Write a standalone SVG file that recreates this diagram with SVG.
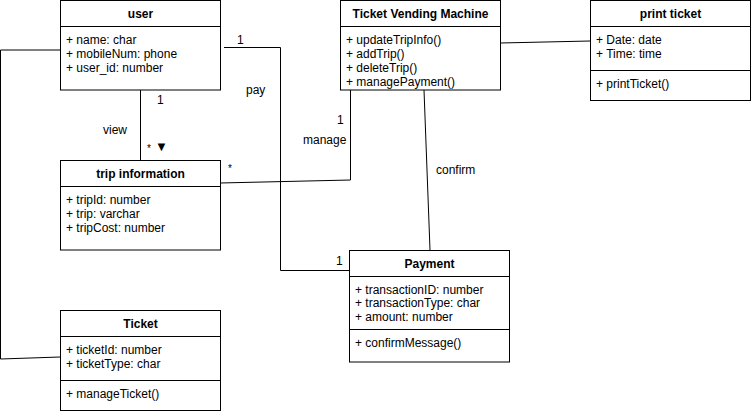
<svg xmlns="http://www.w3.org/2000/svg" width="751" height="414" viewBox="0 0 751 414">
<style>
.box{fill:#fff;stroke:#000;stroke-width:1}
.ln{stroke:#000;stroke-width:1;fill:none}
text{font-family:"Liberation Sans",Arial,Helvetica,sans-serif;font-size:12px;fill:#000}
.t{font-weight:bold;text-anchor:middle}
</style>
<rect width="751" height="414" fill="#fff"/>
<g id="connectors">
<polyline class="ln" points="60,50 0.5,50 0.5,359 60,357"/>
<line class="ln" x1="140.5" y1="90" x2="140.5" y2="160"/>
<polyline class="ln" points="224,47.5 280.5,47.5 280.5,270.5 349,270.5"/>
<polyline class="ln" points="350.5,90 350.5,180 220,183"/>
<line class="ln" x1="424" y1="90" x2="430" y2="250"/>
<line class="ln" x1="500" y1="43" x2="590" y2="41"/>
<text x="237" y="44">1</text>
<text x="246" y="94">pay</text>
<text x="157" y="104">1</text>
<text x="103" y="134">view</text>
<text x="147" y="152" style="font-size:10px">*</text>
<text x="155" y="151" style="font-size:13px">▼</text>
<text x="337" y="124">1</text>
<text x="303" y="144">manage</text>
<text x="228" y="172" style="font-size:10px">*</text>
<text x="436" y="174">confirm</text>
<text x="336" y="265">1</text>
</g>
<g id="user">
<rect class="box" x="60.5" y="0.5" width="160" height="89.5"/>
<line class="ln" x1="60.5" y1="26.5" x2="220.5" y2="26.5"/>
<text class="t" x="140.5" y="18">user</text>
<text x="66" y="44">+ name: char</text>
<text x="66" y="58">+ mobileNum: phone</text>
<text x="66" y="72">+ user_id: number</text>
</g>
<g id="tvm">
<rect class="box" x="340.5" y="0.5" width="160" height="89.5"/>
<line class="ln" x1="340.5" y1="26.5" x2="500.5" y2="26.5"/>
<text class="t" x="420.5" y="18">Ticket Vending Machine</text>
<text x="346" y="44">+ updateTripInfo()</text>
<text x="346" y="58">+ addTrip()</text>
<text x="346" y="72">+ deleteTrip()</text>
<text x="346" y="86">+ managePayment()</text>
</g>
<g id="print-ticket">
<rect class="box" x="590.5" y="0.5" width="160" height="100"/>
<line class="ln" x1="590.5" y1="26.5" x2="750.5" y2="26.5"/>
<line class="ln" x1="590.5" y1="70.5" x2="750.5" y2="70.5"/>
<text class="t" x="670.5" y="18">print ticket</text>
<text x="596" y="44">+ Date: date</text>
<text x="596" y="58">+ Time: time</text>
<text x="596" y="88">+ printTicket()</text>
</g>
<g id="trip-information">
<rect class="box" x="60.5" y="160.5" width="160" height="89.5"/>
<line class="ln" x1="60.5" y1="186.5" x2="220.5" y2="186.5"/>
<text class="t" x="140.5" y="178">trip information</text>
<text x="66" y="204">+ tripId: number</text>
<text x="66" y="218">+ trip: varchar</text>
<text x="66" y="232">+ tripCost: number</text>
</g>
<g id="payment">
<rect class="box" x="349.5" y="250.5" width="160" height="111.5"/>
<line class="ln" x1="349.5" y1="276.5" x2="509.5" y2="276.5"/>
<line class="ln" x1="349.5" y1="329.5" x2="509.5" y2="329.5"/>
<text class="t" x="429.5" y="268">Payment</text>
<text x="355" y="294">+ transactionID: number</text>
<text x="355" y="307">+ transactionType: char</text>
<text x="355" y="321">+ amount: number</text>
<text x="355" y="347">+ confirmMessage()</text>
</g>
<g id="ticket">
<rect class="box" x="60.5" y="310.5" width="160" height="100"/>
<line class="ln" x1="60.5" y1="336.5" x2="220.5" y2="336.5"/>
<line class="ln" x1="60.5" y1="380.5" x2="220.5" y2="380.5"/>
<text class="t" x="140.5" y="328">Ticket</text>
<text x="66" y="354">+ ticketId: number</text>
<text x="66" y="368">+ ticketType: char</text>
<text x="66" y="398">+ manageTicket()</text>
</g>
</svg>
